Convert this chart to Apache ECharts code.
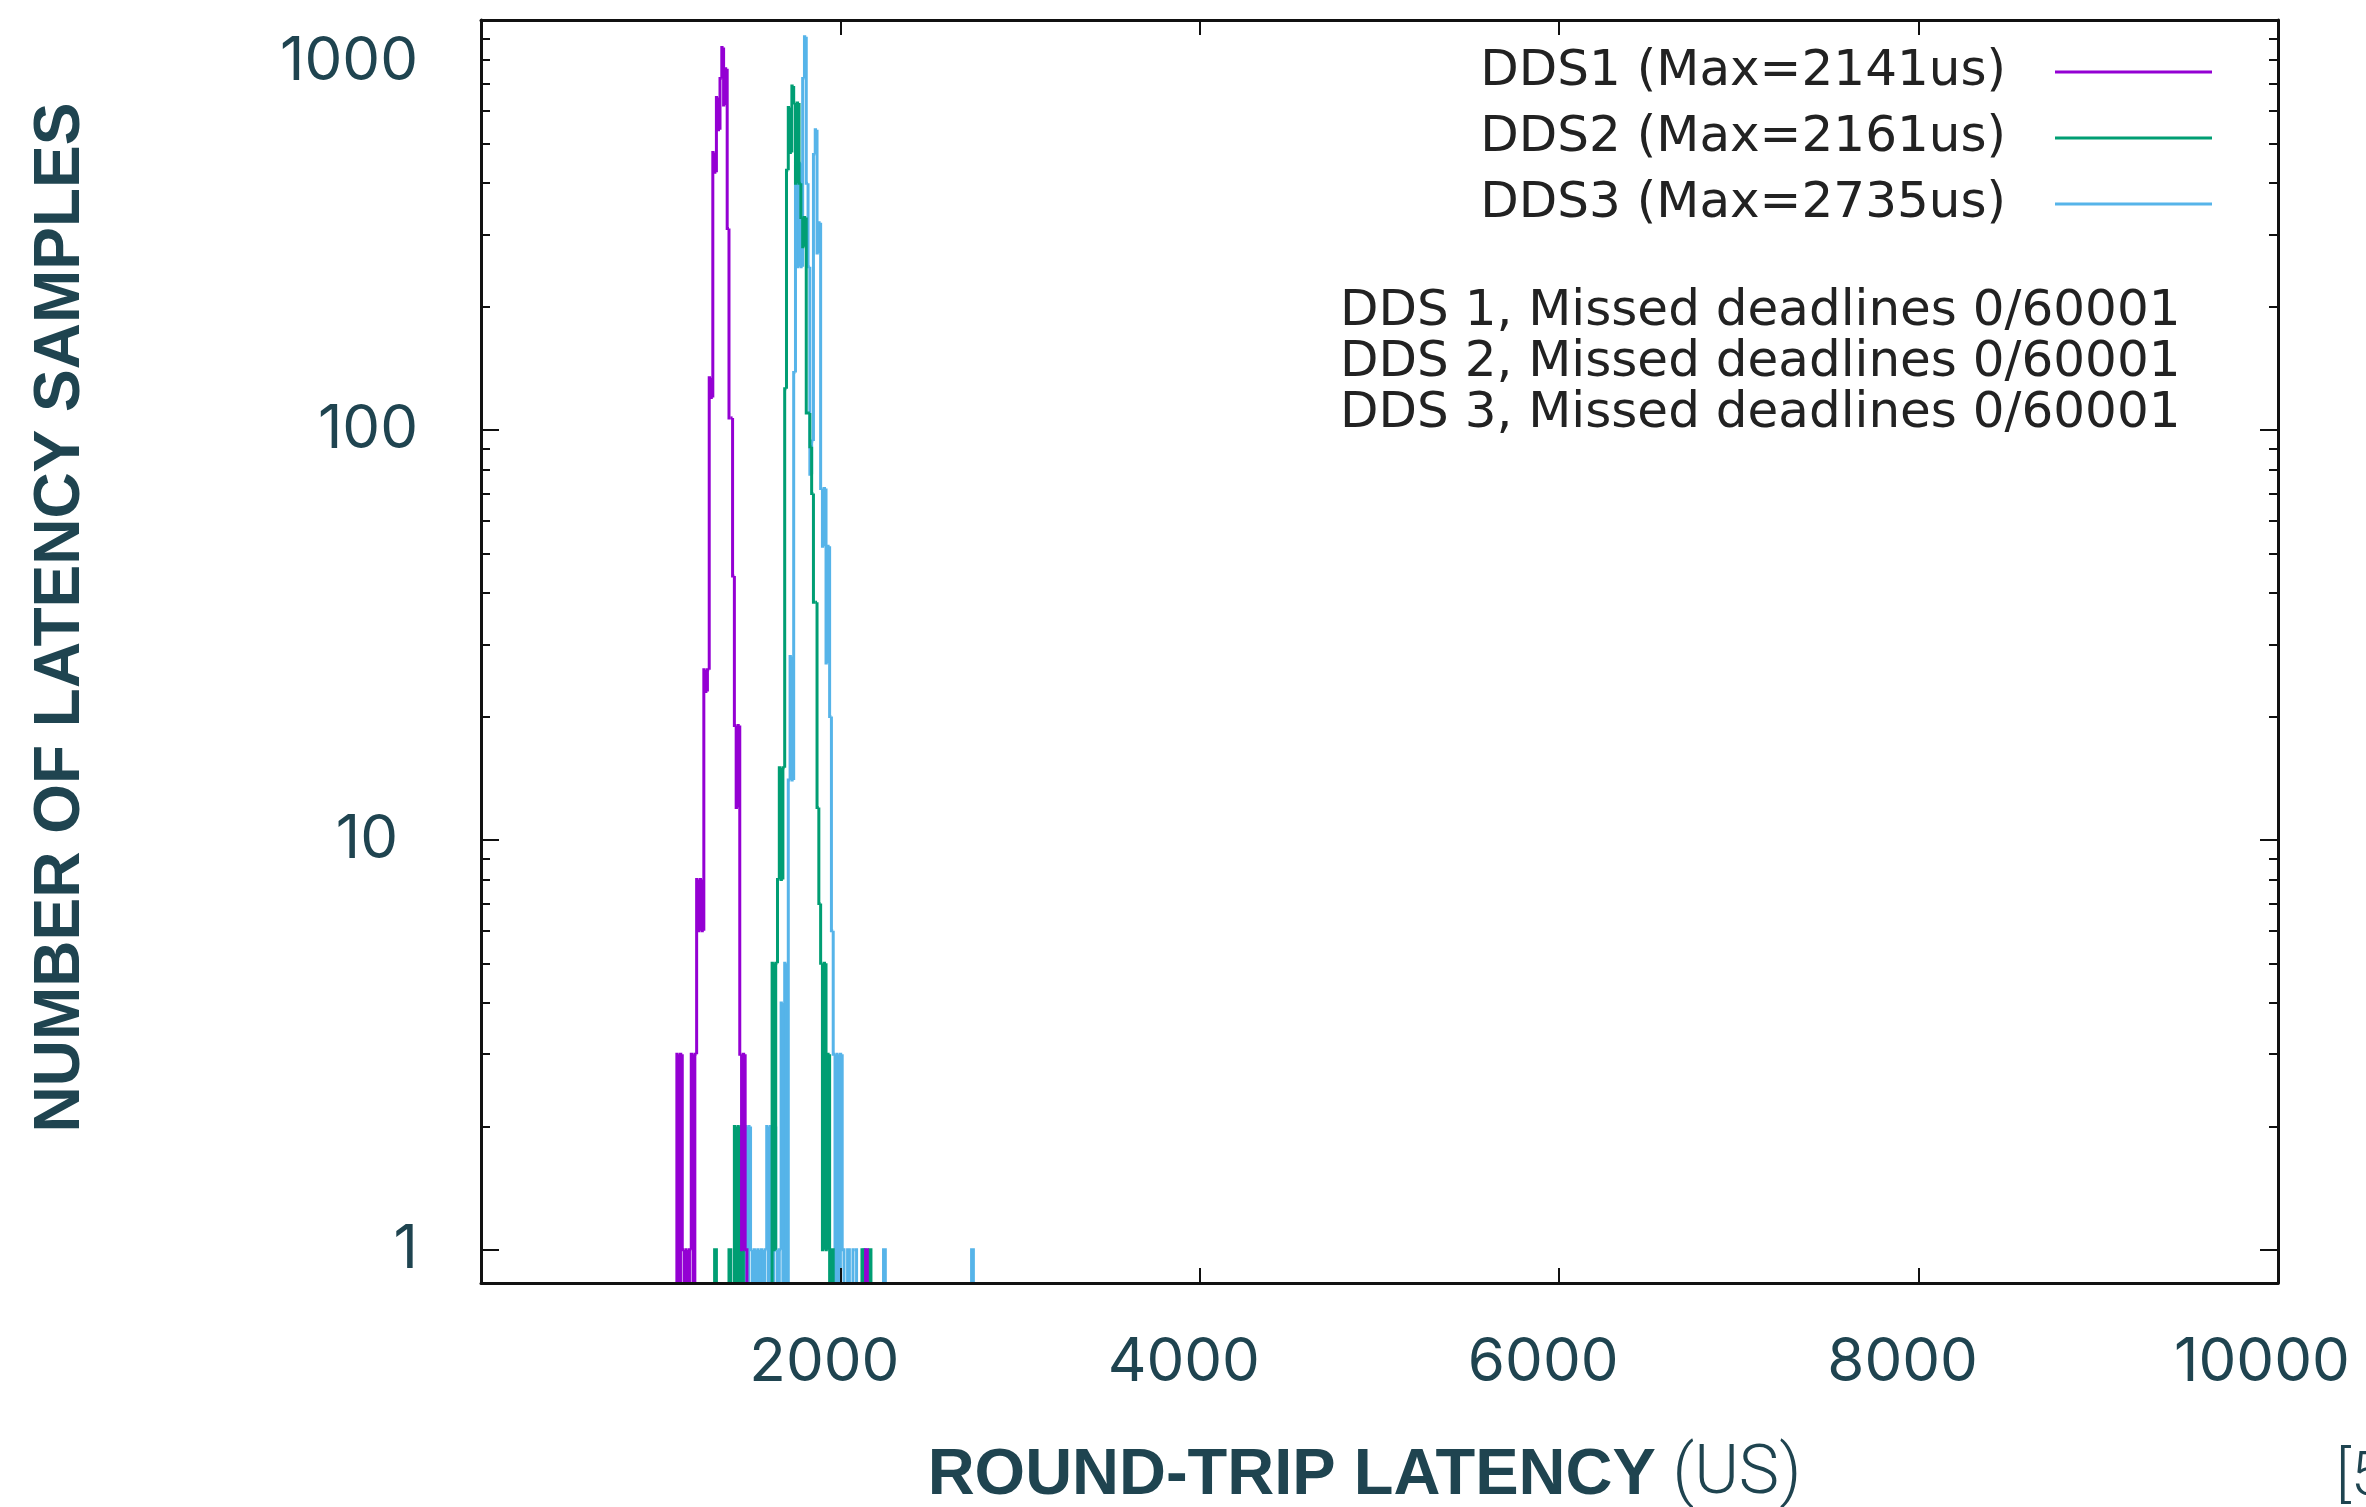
<!DOCTYPE html>
<html>
<head>
<meta charset="utf-8">
<script src="https://cdn.jsdelivr.net/npm/echarts@6/dist/echarts.min.js"></script>
<style>
html,body{margin:0;padding:0;background:#fff;}
#chart{width:2366px;height:1507px;}
</style>
</head>
<body>
<div id="chart"></div>
<script>
// ---------------- data ----------------
const BIN_US = 10; // histogram bin width, microseconds

const seriesNames = ['DDS1 (Max=2141us)', 'DDS2 (Max=2161us)', 'DDS3 (Max=2735us)'];
const seriesColors = ['#9400d3', '#009e73', '#56b4e9'];

// DDS1: contiguous bins from 1090 us, plus isolated bins
const dds1Start = 1090;
const dds1Counts = [3,0,3,1,0,1,0,1,3,0,3,8,6,8,6,26,23,26,134,120,475,425,647,540,720,857,620,760,310,107,107,44,19,12,19,3,1,3,1];
const dds1IsolatedLatency = [2140];
const dds1IsolatedCount = [1];

// DDS2
const dds2LowStart = 1410;
const dds2LowCounts = [2,0,2,0,2];
const dds2Start = 1620;
const dds2Counts = [5,1,5,8,15,8,15,126,430,612,475,690,627,400,627,400,330,280,330,110,110,91,70,38,38,12,7,5,1,5,1,3,0,1];
const dds2IsolatedLatency = [1300, 1380, 2120, 2160];
const dds2IsolatedCount = [1, 1, 1, 1];

// DDS3
const dds3Start = 1410;
const dds3Counts = [1,0,1,0,2,0,2,0,2,1,0,1,0,1,0,1,0,1,2,0,2,0,2,1,0,1,4,0,5,0,14,28,14,138,447,250,447,250,720,910,400,250,78,94,470,540,270,320,72,52,72,27,52,20,6,3,0,3,0,3,1];
const dds3IsolatedLatency = [2040, 2070, 2080, 2130, 2240, 2730];
const dds3IsolatedCount = [1, 1, 1, 1, 1, 1];

// axes
const xMin = 0, xMax = 10000, xStep = 2000;
const yMin = 0.83, yMax = 1000;
const yMajorTicks = [1, 10, 100, 1000];
const yMinorTicks = [2,3,4,5,6,7,8,9,20,30,40,50,60,70,80,90,200,300,400,500,600,700,800,900];

// texts
const yAxisTitle = 'NUMBER OF LATENCY SAMPLES';
const xAxisTitleBold = 'ROUND-TRIP LATENCY';
const xAxisTitleLight = '(US)';
const missedLines = [
  'DDS 1, Missed deadlines 0/60001',
  'DDS 2, Missed deadlines 0/60001',
  'DDS 3, Missed deadlines 0/60001'
];
const refMark = '[5]';

// ---------------- build ----------------
function buildBins(runs, isoLat, isoCnt) {
  const out = [];
  runs.forEach(function (r) {
    r[1].forEach(function (c, k) { out.push([r[0] + k * BIN_US, c]); });
  });
  isoLat.forEach(function (x, k) { out.push([x, isoCnt[k]]); });
  out.sort(function (a, b) { return a[0] - b[0]; });
  return out;
}

const dds1Data = buildBins([[dds1Start, dds1Counts]], dds1IsolatedLatency, dds1IsolatedCount);
const dds2Data = buildBins([[dds2LowStart, dds2LowCounts], [dds2Start, dds2Counts]], dds2IsolatedLatency, dds2IsolatedCount);
const dds3Data = buildBins([[dds3Start, dds3Counts]], dds3IsolatedLatency, dds3IsolatedCount);

function isNum(v) { return typeof v === 'number' && isFinite(v); }

function renderStep(params, api) {
  const i = params.dataIndexInside;
  const cs = params.coordSys;
  const bottom = cs.y + cs.height;
  const x = api.value(0);
  const c = api.value(1);
  const yOf = function (v) { return v > 0 ? api.coord([x, v])[1] : bottom; };
  let prev = 0;
  if (i > 0) {
    const px = api.value(0, i - 1);
    if (isNum(px) && Math.abs(px - (x - BIN_US)) < 1e-6) prev = api.value(1, i - 1);
  }
  let nextAdj = false;
  const n = params.dataInsideLength;
  if (n == null || i < n - 1) {
    const nx = api.value(0, i + 1);
    if (isNum(nx) && Math.abs(nx - (x + BIN_US)) < 1e-6) nextAdj = true;
  }
  const xl = api.coord([x, 1])[0];
  const xr = api.coord([x + BIN_US, 1])[0];
  const yc = yOf(c), yp = yOf(prev);
  const pts = [[xl, yp], [xl, yc]];
  if (c > 0) {
    pts.push([xr, yc]);
    if (!nextAdj) pts.push([xr, bottom]);
  }
  return {
    type: 'polyline',
    shape: { points: pts },
    style: { stroke: api.visual('color'), lineWidth: 3, fill: null, lineJoin: 'miter' }
  };
}

const TEAL = '#1f4450';
const TICK_FONT = 'Inter, "Open Sans", "Noto Sans", sans-serif';
const PLOT_FONT = '"DejaVu Sans", "Liberation Sans", sans-serif';
const TITLE_FONT = '"Liberation Sans", Arial, sans-serif';
const LIGHT_FONT = 'Roboto, "Liberation Sans", sans-serif';
const frameLine = { show: true, onZero: false, lineStyle: { color: '#111', width: 3 } };
const TICK_SIZE = 60;
const GRID_RECT = { left: 481, top: 20, width: 1797, height: 1263, outerBoundsMode: 'none', containLabel: false };

function xAxisDef(pos, withLabels, gridIndex) {
  return {
    type: 'value', gridIndex: gridIndex || 0, position: pos, min: xMin, max: xMax, interval: xStep, z: 10,
    axisLine: frameLine,
    axisTick: { show: true, inside: true, length: 15, lineStyle: { color: '#111', width: 2 } },
    splitLine: { show: false },
    axisLabel: withLabels ? {
      show: true, showMinLabel: false, margin: 50, fontSize: TICK_SIZE, color: TEAL,
      fontFamily: TICK_FONT, padding: [0, 32, 0, 0],
      formatter: function (v) { return String(v); }
    } : { show: false }
  };
}

function yAxisDef(pos, ticks, len, withLabels, showLine, gridIndex) {
  return {
    type: 'log', logBase: 10, gridIndex: gridIndex || 0, position: pos, offset: 0, min: yMin, max: yMax, z: 10,
    axisLine: showLine ? frameLine : { show: false },
    axisTick: { show: true, inside: true, length: len, customValues: ticks, lineStyle: { color: '#111', width: 2 } },
    splitLine: { show: false },
    minorTick: { show: false },
    axisLabel: withLabels ? {
      show: true, customValues: yMajorTicks, margin: 63, fontSize: TICK_SIZE, color: TEAL,
      fontFamily: TICK_FONT,
      formatter: function (v) {
        const r = Math.round(v);
        if (r >= 1000) return '{top|' + r + '}';
        if (r === 10) return '{ten|' + r + '}';
        return '{n|' + r + '}';
      },
      rich: {
        top: { padding: [84, 0, 0, 0], fontSize: TICK_SIZE, color: TEAL, fontFamily: TICK_FONT },
        ten: { padding: [0, 20, 0, 0], fontSize: TICK_SIZE, color: TEAL, fontFamily: TICK_FONT },
        n: { fontSize: TICK_SIZE, color: TEAL, fontFamily: TICK_FONT }
      }
    } : { show: false }
  };
}

const yLeftMajor = yAxisDef('left', yMajorTicks, 18, true, true, 0);
yLeftMajor.name = yAxisTitle;
yLeftMajor.nameLocation = 'middle';
yLeftMajor.nameRotate = 90;
yLeftMajor.nameGap = 388;
yLeftMajor.nameTextStyle = { fontSize: 64, fontWeight: 'bold', fontFamily: TITLE_FONT, color: TEAL, padding: [0, 0, 0, 68] };

const xBottom = xAxisDef('bottom', true, 0);
xBottom.name = '{b|' + xAxisTitleBold + '}{l| ' + xAxisTitleLight + '}';
xBottom.nameLocation = 'middle';
xBottom.nameGap = 159;
xBottom.nameTextStyle = {
  padding: [0, 30, 0, 0],
  rich: {
    b: { fontSize: 65, fontWeight: 'bold', fontFamily: TITLE_FONT, color: TEAL },
    l: { fontSize: 68, fontWeight: 300, fontFamily: LIGHT_FONT, color: TEAL }
  }
};

const xHidden = xAxisDef('bottom', false, 1);
xHidden.show = false;

const seriesData = [dds1Data, dds2Data, dds3Data];
const seriesZ = [5, 4, 3];

const option = {
  animation: false,
  backgroundColor: '#ffffff',
  grid: [Object.assign({}, GRID_RECT), Object.assign({}, GRID_RECT)],
  title: {
    text: missedLines.join('\n'),
    left: 1340, top: 287, padding: 0,
    textStyle: { fontSize: 50, fontWeight: 'normal', lineHeight: 51, color: '#222', fontFamily: PLOT_FONT }
  },
  legend: {
    orient: 'vertical', right: 154, top: 44, align: 'right',
    selectedMode: false, icon: 'rect', itemWidth: 157, itemHeight: 3, itemGap: 10, padding: 0,
    data: seriesNames,
    textStyle: { fontSize: 50, lineHeight: 56, color: '#222', fontFamily: PLOT_FONT, padding: [0, 44, 0, 0] }
  },
  graphic: [{
    type: 'text', x: 2336, y: 1479,
    style: { text: refMark, fontSize: 62, fontWeight: 300, fill: TEAL, fontFamily: LIGHT_FONT, verticalAlign: 'middle' }
  }],
  xAxis: [xBottom, xAxisDef('top', false, 0), xHidden],
  yAxis: [
    yLeftMajor,
    yAxisDef('right', yMajorTicks, 18, false, true, 0),
    yAxisDef('left', yMinorTicks, 9, false, false, 1),
    yAxisDef('right', yMinorTicks, 9, false, false, 1)
  ],
  series: seriesNames.map(function (nm, k) {
    return {
      type: 'custom', name: nm, xAxisIndex: 0, yAxisIndex: 0, z: seriesZ[k], clip: true,
      itemStyle: { color: seriesColors[k] },
      encode: { x: 0, y: 1 },
      renderItem: renderStep,
      data: seriesData[k]
    };
  })
};

const chart = echarts.init(document.getElementById('chart'), null, { renderer: 'canvas', width: 2366, height: 1507 });
chart.setOption(option);
</script>
</body>
</html>
